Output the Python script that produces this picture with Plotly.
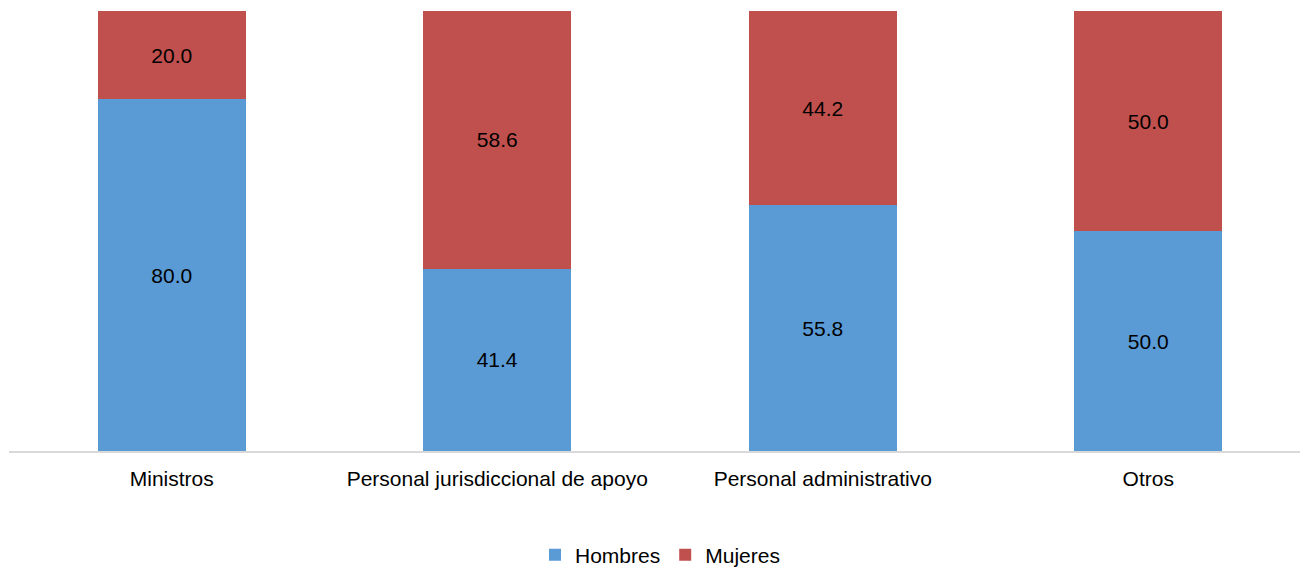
import plotly.graph_objects as go

categories = ["Ministros", "Personal jurisdiccional de apoyo", "Personal administrativo", "Otros"]
hombres = [80.0, 41.4, 55.8, 50.0]
mujeres = [20.0, 58.6, 44.2, 50.0]

FONT = "Liberation Sans, Arial, sans-serif"
FS = 21

fig = go.Figure()
fig.add_trace(go.Bar(
    x=categories, y=hombres, name="Hombres",
    marker=dict(color="#5B9BD5", line=dict(width=0)),
    text=[f"{v:.1f}" for v in hombres], textposition="inside",
    insidetextanchor="middle", textfont=dict(color="black", size=FS, family=FONT),
    textangle=0,
))
fig.add_trace(go.Bar(
    x=categories, y=mujeres, name="Mujeres",
    marker=dict(color="#C0504D", line=dict(width=0)),
    text=[f"{v:.1f}" for v in mujeres], textposition="inside",
    insidetextanchor="middle", textfont=dict(color="black", size=FS, family=FONT),
    textangle=0,
))

fig.update_layout(
    barmode="stack",
    bargap=0.545,
    width=1308, height=569,
    margin=dict(l=1, r=5, t=3, b=122),
    paper_bgcolor="white", plot_bgcolor="white",
    font=dict(family=FONT, size=FS, color="black"),
    xaxis=dict(showline=True, linecolor="#D9D9D9", linewidth=2, ticks="",
               tickfont=dict(size=FS, color="black"), showgrid=False,
               ticklabelstandoff=8),
    yaxis=dict(range=[0, 100], visible=False, showgrid=False),
    legend=dict(orientation="h", x=0.5, xanchor="center", y=-0.2365, yanchor="middle",
                font=dict(size=FS), traceorder="normal"),
    showlegend=True,
)

fig.write_html("out.html")
